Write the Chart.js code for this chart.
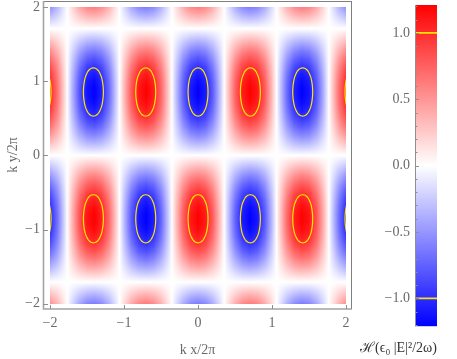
<!DOCTYPE html>
<html><head><meta charset="utf-8">
<script src="https://cdn.jsdelivr.net/npm/chart.js@4.4.1/dist/chart.umd.min.js"></script>
<style>
html,body{margin:0;padding:0;background:#fff;}
#wrap{position:relative;width:457px;height:359px;overflow:hidden;}
#c1{position:absolute;left:0;top:0;}
#c2{position:absolute;left:360px;top:0;}
</style></head><body>
<div id="wrap">
<canvas id="c1" width="360" height="359"></canvas>
<canvas id="c2" width="97" height="359"></canvas>
</div>
<script>
// ---- data ----
const xSamples = [-2,-1.9,-1.8,-1.7,-1.6,-1.5,-1.4,-1.3,-1.2,-1.1,-1,-0.9,-0.8,-0.7,-0.6,-0.5,-0.4,-0.3,-0.2,-0.1,0,0.1,0.2,0.3,0.4,0.5,0.6,0.7,0.8,0.9,1,1.1,1.2,1.3,1.4,1.5,1.6,1.7,1.8,1.9,2];
const ySamples = [-2,-1.9,-1.8,-1.7,-1.6,-1.5,-1.4,-1.3,-1.2,-1.1,-1,-0.9,-0.8,-0.7,-0.6,-0.5,-0.4,-0.3,-0.2,-0.1,0,0.1,0.2,0.3,0.4,0.5,0.6,0.7,0.8,0.9,1,1.1,1.2,1.3,1.4,1.5,1.6,1.7,1.8,1.9,2];
// column profile along x (sign / relative strength)
const xProfile = [0.858,0.554,0.143,-0.297,-0.678,-0.928,-0.998,-0.874,-0.580,-0.174,0.266,0.655,0.916,1.000,0.889,0.606,0.205,-0.236,-0.631,-0.903,-1.000,-0.903,-0.631,-0.236,0.205,0.606,0.889,1.000,0.916,0.655,0.266,-0.174,-0.580,-0.874,-0.998,-0.928,-0.678,-0.297,0.143,0.554,0.858];
// row profile along y (amplitude of H)
const yProfile = [0.621,0.421,0.206,-0.016,-0.237,-0.450,-0.648,-0.824,-0.972,-1.088,-1.166,-1.206,-1.204,-1.162,-1.081,-0.963,-0.812,-0.635,-0.435,-0.221,0,0.221,0.435,0.635,0.812,0.963,1.081,1.162,1.204,1.206,1.166,1.088,0.972,0.824,0.648,0.450,0.237,0.016,-0.206,-0.421,-0.621];
// contour |H| = 1 : ellipse outline (offsets) and centres
const contourDx = [0,0.025,0.043,0.055,0.072,0.089,0.109,0.121,0.131,0.135,0.131,0.121,0.109,0.089,0.072,0.055,0.043,0.025,0,-0.025,-0.043,-0.055,-0.072,-0.089,-0.109,-0.121,-0.131,-0.135,-0.131,-0.121,-0.109,-0.089,-0.072,-0.055,-0.043,-0.025,0];
const contourDy = [0.325,0.32,0.31,0.30,0.28,0.25,0.20,0.15,0.08,0,-0.08,-0.15,-0.20,-0.25,-0.28,-0.30,-0.31,-0.32,-0.325,-0.32,-0.31,-0.30,-0.28,-0.25,-0.20,-0.15,-0.08,0,0.08,0.15,0.20,0.25,0.28,0.30,0.31,0.32,0.325];
const contourCentersX = [-2.121,-1.414,-0.707,0,0.707,1.414,2.121];
const contourCentersY = [0.854,-0.854];
// axes
const xTicks = [-2,-1,0,1,2];
const xTickLabels = ['\u22122','\u22121','0','1','2'];
const yTicks = [-2,-1,0,1,2];
const yTickLabels = ['\u22122','\u22121','0','1','2'];
const colorRange = [-1.21, 1.21];
const cbTicks = [-1,-0.5,0,0.5,1];
const cbTickLabels = ['\u22121.0','\u22120.5','0.0','0.5','1.0'];
const cbMinorTicks = [-1.2,-1.1,-1,-0.9,-0.8,-0.7,-0.6,-0.5,-0.4,-0.3,-0.2,-0.1,0,0.1,0.2,0.3,0.4,0.5,0.6,0.7,0.8,0.9,1,1.1,1.2];
const cbContourLevels = [1,-1];

// ---- styling ----
const FONT = "'Liberation Serif','DejaVu Serif',serif";
const TXT = '#6a6a6a';
const AX = '#8f8f8f';
const YELLOW = 'rgb(255,228,0)';

function profileAt(s, p, v){
  if (v <= s[0]) return p[0];
  const n = s.length;
  if (v >= s[n-1]) return p[n-1];
  for (let i=0;i<n-1;i++){
    if (v>=s[i] && v<=s[i+1]){
      const f=(v-s[i])/(s[i+1]-s[i]);
      return p[i]*(1-f)+p[i+1]*f;
    }
  }
  return 0;
}
function colorFor(v){
  const t=Math.max(-1,Math.min(1,v/colorRange[1]));
  if (t>=0){const g=Math.round(255*(1-t));return [255,g,g];}
  const g=Math.round(255*(1+t));return [g,g,255];
}

const heatPlugin = {
  id:'heat',
  beforeDatasetsDraw(chart){
    const {ctx, scales:{x,y}} = chart;
    const L=x.getPixelForValue(xSamples[0]), R=x.getPixelForValue(xSamples[xSamples.length-1]);
    const T=y.getPixelForValue(ySamples[ySamples.length-1]), B=y.getPixelForValue(ySamples[0]);
    const x0=Math.round(L), x1=Math.round(R), y0=Math.round(T), y1=Math.round(B);
    const w=x1-x0, h=y1-y0;
    const off=document.createElement('canvas'); off.width=w; off.height=h;
    const octx=off.getContext('2d'); const img=octx.createImageData(w,h);
    const colV=[]; for(let i=0;i<w;i++) colV.push(profileAt(xSamples,xProfile,x.getValueForPixel(x0+i+0.5)));
    const rowV=[]; for(let j=0;j<h;j++) rowV.push(profileAt(ySamples,yProfile,y.getValueForPixel(y0+j+0.5)));
    for(let j=0;j<h;j++){for(let i=0;i<w;i++){
      const c=colorFor(colV[i]*rowV[j]); const k=(j*w+i)*4;
      img.data[k]=c[0];img.data[k+1]=c[1];img.data[k+2]=c[2];img.data[k+3]=255;
    }}
    octx.putImageData(img,0,0);
    ctx.drawImage(off,x0,y0);
    ctx.save(); ctx.beginPath(); ctx.rect(x0,y0,w,h); ctx.clip();
  },
  afterDatasetsDraw(chart){
    const ctx=chart.ctx; ctx.restore();
    const {left,right,top,bottom}=chart.chartArea; const {x,y}=chart.scales;
    ctx.save();
    ctx.strokeStyle='#7f7f7f'; ctx.lineWidth=1;
    ctx.beginPath();
    ctx.moveTo(left, top+0.5); ctx.lineTo(right, top+0.5);
    ctx.moveTo(right-0.5, top); ctx.lineTo(right-0.5, bottom);
    ctx.stroke();
    ctx.strokeStyle='#a3a3a3'; ctx.lineWidth=1.6;
    ctx.beginPath(); ctx.moveTo(left+0.5, top); ctx.lineTo(left+0.5, bottom); ctx.lineTo(right, bottom); ctx.stroke();
    ctx.strokeStyle=AX; ctx.lineWidth=1;
    ctx.beginPath();
    xTicks.forEach(v=>{const p=Math.round(x.getPixelForValue(v))+0.5; ctx.moveTo(p,bottom); ctx.lineTo(p,bottom-4);});
    yTicks.forEach(v=>{const p=Math.round(y.getPixelForValue(v))+0.5; ctx.moveTo(left,p); ctx.lineTo(left+5,p);});
    ctx.stroke();
    ctx.restore();
  }
};

const contourSets=[];
contourCentersY.forEach(cy=>contourCentersX.forEach(cx=>{
  contourSets.push({
    data: contourDx.map((d,k)=>({x:cx+d, y:cy+contourDy[k]})),
    showLine:true, borderColor:YELLOW, borderWidth:1.2, pointRadius:0, tension:0.25, fill:false, clip:false
  });
}));

new Chart(document.getElementById('c1'),{
  type:'scatter',
  data:{datasets:contourSets},
  options:{
    responsive:false, animation:false, devicePixelRatio:1,
    layout:{padding:{left:0,right:8,top:1,bottom:0}, autoPadding:false},
    plugins:{legend:{display:false}, tooltip:{enabled:false}},
    scales:{
      x:{type:'linear', min:-2.095, max:2.08,
        afterBuildTicks:s=>{s.ticks=xTicks.map(v=>({value:v}));},
        ticks:{callback:(v,i)=>xTickLabels[i], font:{family:FONT,size:14}, color:TXT, padding:6, maxRotation:0, autoSkip:false},
        grid:{display:false, drawTicks:false}, border:{display:false},
        title:{display:true, text:'k x/2\u03c0', font:{family:FONT,size:14}, color:TXT, padding:{top:0,bottom:0}},
        afterFit:s=>{s.height=50; s.paddingLeft=0; s.paddingRight=0;}
      },
      y:{type:'linear', min:-2.07, max:2.08,
        afterBuildTicks:s=>{s.ticks=yTicks.map(v=>({value:v}));},
        ticks:{callback:(v,i)=>yTickLabels[i], font:{family:FONT,size:14}, color:TXT, padding:3, autoSkip:false},
        grid:{display:false, drawTicks:false}, border:{display:false},
        title:{display:true, text:'k y/2\u03c0', font:{family:FONT,size:14}, color:TXT, padding:{top:5,bottom:0}},
        afterFit:s=>{s.width=43; s.paddingTop=0; s.paddingBottom=0;}
      }
    }
  },
  plugins:[heatPlugin]
});

const cbPlugin = {
  id:'cb',
  beforeDatasetsDraw(chart){
    const {ctx, chartArea:{left,right,top,bottom}, scales:{y}} = chart;
    const pTop=y.getPixelForValue(colorRange[1]), pBot=y.getPixelForValue(colorRange[0]), pZero=y.getPixelForValue(0);
    const g=ctx.createLinearGradient(0,pTop,0,pBot);
    g.addColorStop(0,'rgb(255,0,0)');
    g.addColorStop((pZero-pTop)/(pBot-pTop),'rgb(255,255,255)');
    g.addColorStop(1,'rgb(0,0,255)');
    ctx.save(); ctx.fillStyle=g; ctx.fillRect(left,pTop,right-left,pBot-pTop); ctx.restore();
  },
  afterDatasetsDraw(chart){
    const {ctx, chartArea:{left,top,bottom}, scales:{y}} = chart;
    ctx.save(); ctx.strokeStyle=AX; ctx.lineWidth=1;
    ctx.beginPath(); ctx.moveTo(left+0.5,top); ctx.lineTo(left+0.5,bottom);
    cbMinorTicks.forEach(v=>{const p=Math.round(y.getPixelForValue(v))+0.5; ctx.moveTo(left,p); ctx.lineTo(left+2.5,p);});
    cbTicks.forEach(v=>{const p=Math.round(y.getPixelForValue(v))+0.5; ctx.moveTo(left,p); ctx.lineTo(left+4,p);});
    ctx.stroke(); ctx.restore();
  }
};

new Chart(document.getElementById('c2'),{
  type:'scatter',
  data:{datasets:cbContourLevels.map(l=>({data:[{x:0,y:l},{x:1,y:l}], showLine:true, borderColor:YELLOW, borderWidth:1.6, pointRadius:0}))},
  options:{
    responsive:false, animation:false, devicePixelRatio:1,
    layout:{padding:{left:0,right:20,top:5,bottom:0}, autoPadding:false},
    plugins:{legend:{display:false}, tooltip:{enabled:false},
      title:{display:true, position:'bottom', text:'\u210B(\u03f5\u2080 |E|\u00b2/2\u03c9)', font:{family:FONT,size:14,weight:'normal'}, color:'#333', padding:{top:14,bottom:2}}},
    scales:{
      x:{type:'linear', min:0, max:1, display:false},
      y:{type:'linear', min:colorRange[0], max:colorRange[1],
        afterBuildTicks:s=>{s.ticks=cbTicks.map(v=>({value:v}));},
        ticks:{callback:(v,i)=>cbTickLabels[i], font:{family:FONT,size:14}, color:TXT, padding:5, autoSkip:false},
        grid:{display:false, drawTicks:false}, border:{display:false},
        afterFit:s=>{s.width=55; s.paddingTop=0; s.paddingBottom=0;}
      }
    }
  },
  plugins:[cbPlugin]
});
</script>
</body></html>
